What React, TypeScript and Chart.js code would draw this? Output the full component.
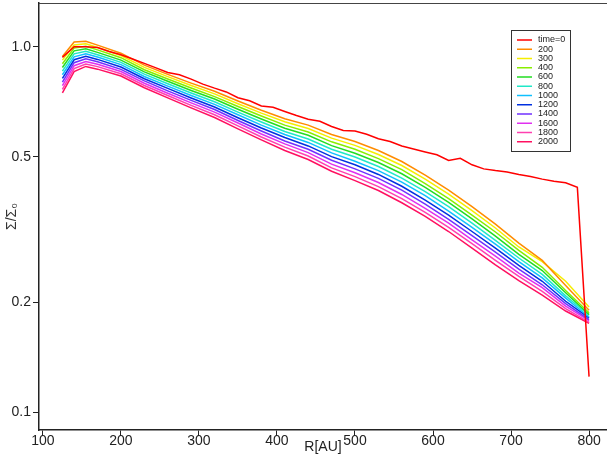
import React, { useEffect, useRef } from "react";
import { Chart, registerables } from "chart.js";
Chart.register(...registerables);

// Radius grid for the initial profile (time=0)
const R_T0 = [125, 140, 155, 170, 185, 200, 215, 230, 245, 260, 275, 290, 305, 320, 335, 350, 365, 380, 395, 410, 425, 440, 455, 470, 485, 500, 515, 530, 545, 560, 575, 590, 605, 620, 635, 650, 665, 680, 695, 710, 725, 740, 755, 770, 785, 800];
const T0 = [0.935, 1.0, 1.0, 0.995, 0.97, 0.95, 0.925, 0.9, 0.875, 0.85, 0.838, 0.815, 0.79, 0.77, 0.752, 0.725, 0.711, 0.688, 0.683, 0.665, 0.648, 0.633, 0.625, 0.605, 0.59, 0.588, 0.576, 0.56, 0.55, 0.535, 0.525, 0.515, 0.506, 0.488, 0.495, 0.475, 0.463, 0.458, 0.454, 0.447, 0.441, 0.434, 0.428, 0.424, 0.412, 0.125];

// Radius grid for the evolved profiles
const R = [125, 140, 155, 170, 200, 230, 260, 290, 320, 350, 380, 410, 440, 470, 500, 530, 560, 590, 620, 650, 680, 710, 740, 770, 800];
const T200 = [0.940, 1.030, 1.035, 1.010, 0.960, 0.890, 0.840, 0.795, 0.755, 0.710, 0.670, 0.635, 0.610, 0.575, 0.550, 0.520, 0.485, 0.445, 0.405, 0.365, 0.327, 0.290, 0.260, 0.222, 0.190];
const T300 = [0.919, 1.011, 1.019, 0.995, 0.946, 0.878, 0.828, 0.783, 0.743, 0.698, 0.658, 0.623, 0.597, 0.562, 0.537, 0.507, 0.473, 0.434, 0.395, 0.356, 0.319, 0.283, 0.258, 0.228, 0.194];
const T400 = [0.898, 0.992, 1.003, 0.980, 0.933, 0.865, 0.816, 0.771, 0.730, 0.686, 0.646, 0.610, 0.584, 0.549, 0.524, 0.494, 0.461, 0.422, 0.384, 0.346, 0.311, 0.277, 0.249, 0.215, 0.187];
const T600 = [0.877, 0.974, 0.987, 0.965, 0.919, 0.853, 0.804, 0.759, 0.719, 0.674, 0.634, 0.598, 0.572, 0.536, 0.511, 0.482, 0.449, 0.412, 0.375, 0.338, 0.303, 0.270, 0.244, 0.212, 0.185];
const T800 = [0.857, 0.956, 0.971, 0.951, 0.906, 0.841, 0.792, 0.747, 0.707, 0.662, 0.622, 0.586, 0.559, 0.524, 0.499, 0.470, 0.437, 0.401, 0.365, 0.329, 0.295, 0.264, 0.238, 0.208, 0.184];
const T1000 = [0.838, 0.938, 0.956, 0.937, 0.893, 0.829, 0.780, 0.735, 0.695, 0.651, 0.610, 0.575, 0.547, 0.512, 0.486, 0.458, 0.426, 0.391, 0.355, 0.320, 0.288, 0.258, 0.233, 0.205, 0.182];
const T1200 = [0.819, 0.921, 0.941, 0.923, 0.880, 0.817, 0.769, 0.724, 0.684, 0.639, 0.599, 0.564, 0.535, 0.500, 0.475, 0.447, 0.415, 0.380, 0.346, 0.312, 0.281, 0.252, 0.228, 0.201, 0.181];
const T1400 = [0.800, 0.904, 0.926, 0.909, 0.867, 0.806, 0.757, 0.713, 0.673, 0.628, 0.588, 0.552, 0.524, 0.489, 0.463, 0.436, 0.405, 0.371, 0.337, 0.304, 0.274, 0.246, 0.223, 0.198, 0.179];
const T1600 = [0.782, 0.887, 0.911, 0.895, 0.855, 0.794, 0.746, 0.702, 0.662, 0.618, 0.577, 0.542, 0.513, 0.477, 0.452, 0.425, 0.394, 0.361, 0.329, 0.296, 0.267, 0.240, 0.219, 0.195, 0.178];
const T1800 = [0.764, 0.871, 0.897, 0.882, 0.843, 0.783, 0.735, 0.691, 0.651, 0.607, 0.566, 0.531, 0.502, 0.466, 0.441, 0.414, 0.384, 0.352, 0.320, 0.289, 0.260, 0.235, 0.214, 0.192, 0.176];
const T2000 = [0.747, 0.855, 0.883, 0.868, 0.831, 0.772, 0.724, 0.680, 0.640, 0.596, 0.556, 0.520, 0.491, 0.456, 0.430, 0.404, 0.374, 0.343, 0.312, 0.281, 0.253, 0.229, 0.209, 0.189, 0.175];

const LABELS = ["time=0", "200", "300", "400", "600", "800", "1000", "1200", "1400", "1600", "1800", "2000"];
const COLORS = ["#FF0000", "#FF8C00", "#F5EE00", "#88EE00", "#22DD22", "#20E8C8", "#10C0FF", "#0030E0", "#7030FF", "#E030F0", "#FF40B0", "#FF1060"];
const X_TICKS = [100, 200, 300, 400, 500, 600, 700, 800];
const Y_TICKS = [0.1, 0.2, 0.5, 1.0];

export default function App() {
  const ref = useRef<HTMLCanvasElement>(null);

  useEffect(() => {
    document.body.style.margin = "0";
    const series = [T0, T200, T300, T400, T600, T800, T1000, T1200, T1400, T1600, T1800, T2000];
    const datasets = series.map((s, i) => {
      const xs = i === 0 ? R_T0 : R;
      return {
        label: LABELS[i],
        data: s.map((v, j) => ({ x: xs[j], y: v })),
        borderColor: COLORS[i],
        backgroundColor: COLORS[i],
        borderWidth: 1.5,
        pointRadius: 0,
        fill: false,
        tension: 0,
      };
    });

    const legendPlugin = {
      id: "boxLegend",
      afterDraw(chart: any) {
        const ctx = chart.ctx;
        ctx.save();
        const bx = 511, by = 30, bw = 59, bh = 121;
        ctx.fillStyle = "#ffffff";
        ctx.fillRect(bx, by, bw, bh);
        ctx.strokeStyle = "#333";
        ctx.lineWidth = 1;
        ctx.strokeRect(bx + 0.5, by + 0.5, bw, bh);
        ctx.font = "9px 'Liberation Sans', Arial, sans-serif";
        ctx.textBaseline = "middle";
        ctx.textAlign = "left";
        chart.data.datasets.forEach((d: any, k: number) => {
          const y = 40 + k * 9.25;
          ctx.strokeStyle = d.borderColor;
          ctx.lineWidth = 1.5;
          ctx.beginPath();
          ctx.moveTo(517, y);
          ctx.lineTo(532, y);
          ctx.stroke();
          ctx.fillStyle = "#222";
          ctx.fillText(d.label, 538, y);
        });
        ctx.restore();
      },
    };

    const framePlugin = {
      id: "topFrame",
      afterDraw(chart: any) {
        const { ctx, chartArea } = chart;
        ctx.save();
        ctx.strokeStyle = "#444";
        ctx.lineWidth = 1;
        ctx.beginPath();
        ctx.moveTo(chartArea.left, chartArea.top + 0.5);
        ctx.lineTo(chartArea.right, chartArea.top + 0.5);
        ctx.stroke();
        ctx.restore();
      },
    };

    const chart = new Chart(ref.current as HTMLCanvasElement, {
      type: "line",
      data: { datasets } as any,
      options: {
        animation: false,
        responsive: true,
        maintainAspectRatio: false,
        layout: { padding: { top: 3, right: 0, left: 0, bottom: 0 } },
        plugins: {
          legend: { display: false },
          tooltip: { enabled: false },
        },
        scales: {
          x: {
            type: "linear",
            min: 95,
            max: 823,
            afterBuildTicks(scale: any) {
              scale.ticks = X_TICKS.map((v) => ({ value: v }));
            },
            afterFit(scale: any) {
              scale.height = 32;
              scale.paddingLeft = 0;
              scale.paddingRight = 0;
            },
            grid: { drawOnChartArea: false, drawTicks: true, tickLength: 6, color: "#222" },
            border: { display: true, color: "#222", width: 1.5 },
            ticks: {
              autoSkip: false,
              maxRotation: 0,
              padding: -3,
              color: "#222",
              font: { family: "'Liberation Sans', Arial, sans-serif", size: 14 },
              callback: (v: any) => String(v),
            },
            title: {
              display: true,
              text: "R[AU]",
              color: "#222",
              font: { family: "'Liberation Sans', Arial, sans-serif", size: 14 },
              padding: { top: 0, bottom: 6 },
            },
          },
          y: {
            type: "logarithmic",
            min: 0.0893,
            max: 1.317,
            afterBuildTicks(scale: any) {
              scale.ticks = Y_TICKS.map((v) => ({ value: v }));
            },
            afterFit(scale: any) {
              scale.width = 39;
              scale.paddingTop = 0;
              scale.paddingBottom = 0;
            },
            grid: { drawOnChartArea: false, drawTicks: true, tickLength: 6, color: "#222" },
            border: { display: true, color: "#222", width: 1.5 },
            ticks: {
              autoSkip: false,
              padding: 2,
              color: "#222",
              font: { family: "'Liberation Sans', Arial, sans-serif", size: 14 },
              callback: (v: any) => Number(v).toFixed(1),
            },
            title: {
              display: true,
              text: "Σ/Σ₀",
              color: "#333",
              font: { family: "'Liberation Sans', Arial, sans-serif", size: 14 },
              padding: { top: 4, bottom: 0 },
            },
          },
        },
      } as any,
      plugins: [legendPlugin, framePlugin],
    });
    return () => chart.destroy();
  }, []);

  return (
    <div style={{ width: 607, height: 462, position: "relative" }}>
      <canvas ref={ref} />
    </div>
  );
}
